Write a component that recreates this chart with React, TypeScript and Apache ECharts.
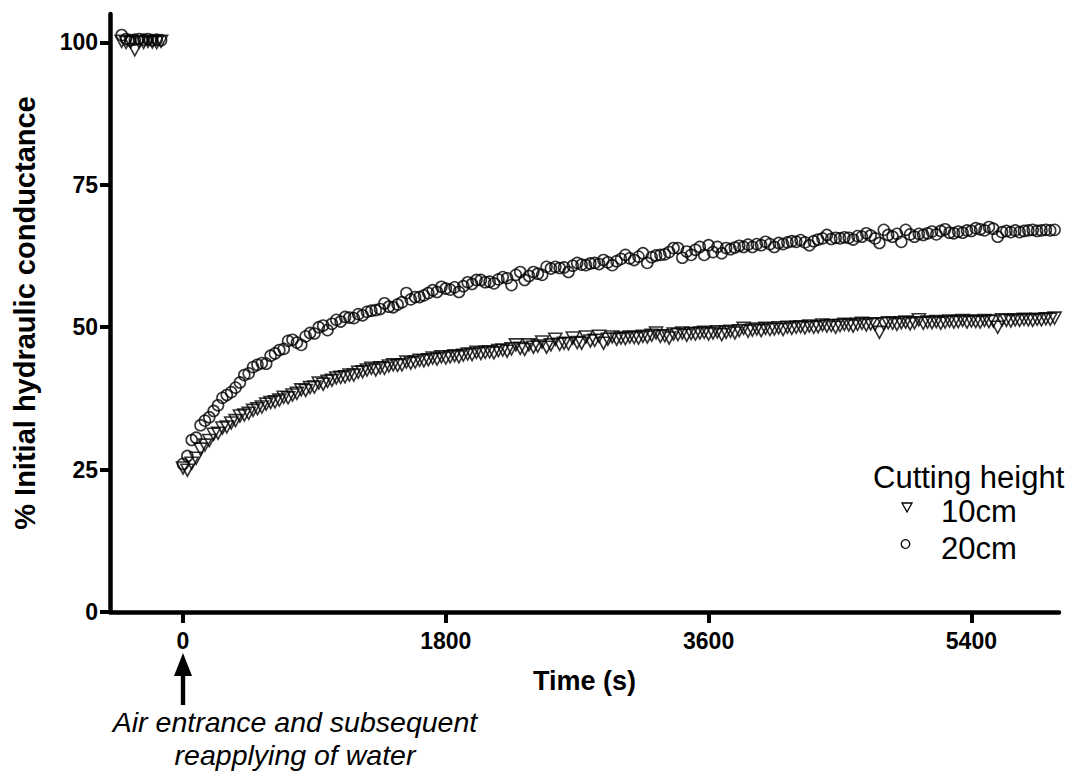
import React, { useEffect, useRef } from "react";
import * as echarts from "echarts";

const FONT = 'Arial, "Liberation Sans", Helvetica, sans-serif';

const X_TICKS = [0, 1800, 3600, 5400];
const Y_TICKS = [0, 25, 50, 75, 100];

// Baseline readings before air entrance (s)
const PRE_TIMES = [-420, -390, -360, -330, -300, -270, -240, -210, -180, -150];
const PRE_10CM = [100.2, 100.0, 100.1, 98.7, 100.1, 100.0, 100.2, 100.1, 100.0, 100.2];
const PRE_20CM = [101.3, 100.6, 100.4, 100.5, 100.6, 100.5, 100.6, 100.4, 100.5, 100.4];

// Recovery readings, one every 30 s starting at t = 0
const SAMPLE_STEP = 30;
const POST_10CM = [
  25.3, 24.9, 26.1, 27.0, 28.6, 29.3, 30.1, 31.2, 31.4, 32.3,
  32.5, 33.2, 33.6, 34.4, 34.6, 34.9, 35.4, 35.7, 36.0, 36.5,
  36.8, 36.9, 37.2, 37.7, 37.6, 38.1, 38.4, 39.0, 38.9, 39.4,
  39.5, 40.2, 40.0, 40.5, 40.7, 41.1, 41.2, 41.3, 41.6, 41.6,
  42.1, 42.2, 42.5, 42.8, 42.5, 42.9, 42.8, 43.2, 43.4, 43.3,
  43.4, 43.9, 43.7, 43.9, 44.2, 44.1, 44.3, 44.6, 44.4, 44.8,
  44.6, 44.8, 45.0, 44.8, 45.1, 45.3, 45.2, 45.6, 45.4, 45.6,
  45.7, 45.5, 45.9, 46.0, 45.8, 46.2, 46.9, 46.3, 46.1, 46.9,
  46.5, 46.7, 47.4, 46.5, 46.9, 47.9, 47.0, 47.2, 47.1, 48.1,
  47.3, 47.2, 48.3, 47.6, 47.7, 48.4, 47.2, 47.9, 48.3, 47.9,
  48.1, 48.0, 48.3, 48.2, 48.1, 48.4, 48.3, 48.6, 49.0, 48.4,
  48.5, 48.1, 48.8, 48.7, 49.0, 48.6, 48.9, 48.8, 49.0, 49.1,
  48.8, 49.0, 49.2, 48.7, 49.1, 49.3, 49.0, 49.4, 49.8, 49.3,
  49.5, 49.7, 49.4, 49.8, 49.6, 49.7, 49.9, 49.6, 50.0, 49.8,
  50.0, 50.1, 49.9, 50.2, 50.0, 50.1, 50.4, 50.2, 50.3, 50.0,
  50.3, 50.5, 50.4, 50.2, 50.5, 50.7, 50.4, 50.6, 50.5, 49.1,
  50.6, 50.8, 50.7, 50.5, 50.8, 50.9, 50.6, 50.8, 51.3, 50.7,
  50.9, 50.8, 51.0, 50.7, 50.9, 51.1, 50.9, 51.0, 51.2, 50.9,
  51.1, 51.0, 50.9, 51.2, 51.0, 51.1, 50.0, 51.3, 51.2, 51.1,
  51.3, 51.2, 51.4, 51.3, 51.2, 51.4, 51.3, 51.5, 51.4, 51.6,
];
const POST_20CM = [
  26.0, 27.4, 30.2, 30.6, 32.8, 33.6, 34.2, 35.3, 36.3, 37.6,
  38.1, 38.6, 39.4, 40.3, 41.6, 41.9, 43.0, 43.4, 43.7, 43.6,
  45.0, 45.4, 46.0, 46.2, 47.6, 47.8, 47.3, 46.9, 48.4, 49.0,
  48.9, 50.0, 50.3, 49.5, 50.6, 51.3, 51.0, 51.8, 51.7, 51.6,
  52.3, 52.1, 52.7, 52.9, 53.0, 53.2, 54.2, 53.6, 53.5, 54.0,
  54.4, 56.0, 54.9, 55.3, 55.3, 55.6, 56.0, 56.5, 56.2, 57.1,
  56.8, 56.6, 57.0, 56.2, 57.2, 57.9, 57.6, 58.3, 58.3, 57.9,
  58.0, 57.7, 58.4, 58.8, 58.6, 57.4, 59.2, 59.7, 58.3, 59.0,
  59.7, 59.4, 59.2, 60.6, 60.3, 60.6, 60.4, 60.5, 59.7, 60.8,
  61.3, 61.0, 60.9, 61.2, 61.3, 61.1, 61.8, 61.4, 60.9, 61.6,
  62.0, 62.7, 62.1, 61.8, 62.4, 63.0, 61.3, 62.3, 62.6, 62.7,
  62.8, 63.2, 63.9, 63.9, 62.2, 63.3, 62.7, 63.6, 64.1, 62.7,
  64.4, 63.2, 64.1, 63.0, 63.9, 63.7, 64.0, 64.3, 64.1, 64.5,
  64.1, 64.6, 64.4, 65.0, 64.6, 64.1, 64.8, 64.6, 64.9, 65.1,
  65.0, 65.3, 64.9, 64.4, 65.1, 65.4, 65.6, 66.2, 65.5, 65.7,
  65.6, 65.8, 65.7, 65.4, 66.0, 65.9, 66.5, 66.1, 65.6, 64.8,
  67.1, 66.2, 65.9, 66.4, 65.0, 67.1, 66.3, 65.9, 66.4, 66.2,
  66.5, 66.8, 66.3, 66.9, 67.2, 66.6, 66.5, 66.8, 66.6, 67.0,
  66.9, 67.4, 67.2, 67.0, 67.6, 67.3, 65.9, 66.7, 66.9, 66.7,
  67.0, 66.7, 66.9, 67.0, 67.1, 66.9, 67.0, 67.1, 67.0, 67.1,
];

const SERIES_NAMES = ["10cm", "20cm"];
const LEGEND_TITLE = "Cutting height";
const X_NAME = "Time (s)";
const Y_NAME = "% Initial hydraulic conductance";
const NOTE_LINES = ["Air entrance and subsequent", "reapplying of water"];

function buildPoints(pre: number[], post: number[]): number[][] {
  const pts: number[][] = PRE_TIMES.map((t, i) => [t, pre[i]]);
  post.forEach((v, i) => pts.push([i * SAMPLE_STEP, v]));
  return pts;
}

export default function App() {
  const ref = useRef<HTMLDivElement>(null);

  useEffect(() => {
    document.body.style.margin = "0";
    if (!ref.current) return;
    const chart = echarts.init(ref.current, undefined, { renderer: "svg" });

    const markerStyle = {
      color: "rgba(255,255,255,0)",
      borderColor: "#000",
      borderWidth: 1.6,
    };

    chart.setOption({
      animation: false,
      backgroundColor: "#fff",
      grid: { left: 110, right: 17, top: 14, bottom: 161, containLabel: false },
      xAxis: {
        type: "value",
        min: -500,
        max: 6000,
        name: X_NAME,
        nameLocation: "middle",
        nameGap: 55,
        nameTextStyle: { fontFamily: FONT, fontWeight: "bold", fontSize: 27, color: "#000" },
        splitLine: { show: false },
        axisLine: { show: true, onZero: false, lineStyle: { color: "#000", width: 4.5, cap: "round" } },
        axisTick: { show: true, length: 11, lineStyle: { color: "#000", width: 4 }, customValues: X_TICKS },
        axisLabel: {
          fontFamily: FONT, fontWeight: "bold", fontSize: 23, color: "#000", margin: 17,
          customValues: X_TICKS,
          formatter: (v: number) => String(v),
        },
      },
      yAxis: {
        type: "value",
        min: 0,
        max: 105,
        name: Y_NAME,
        nameLocation: "middle",
        nameRotate: 90,
        nameGap: 71,
        nameTextStyle: { fontFamily: FONT, fontWeight: "bold", fontSize: 29, color: "#000" },
        splitLine: { show: false },
        axisLine: { show: true, onZero: false, lineStyle: { color: "#000", width: 4.5, cap: "round" } },
        axisTick: { show: true, length: 10, lineStyle: { color: "#000", width: 4 }, customValues: Y_TICKS },
        axisLabel: {
          fontFamily: FONT, fontWeight: "bold", fontSize: 23, color: "#000", margin: 12,
          customValues: Y_TICKS,
          formatter: (v: number) => String(v),
        },
      },
      series: [
        {
          name: SERIES_NAMES[0],
          type: "scatter",
          data: buildPoints(PRE_10CM, POST_10CM),
          symbol: "triangle",
          symbolRotate: 180,
          symbolSize: [13, 12],
          itemStyle: markerStyle,
          z: 3,
        },
        {
          name: SERIES_NAMES[1],
          type: "scatter",
          data: buildPoints(PRE_20CM, POST_20CM),
          symbol: "circle",
          symbolSize: 11,
          itemStyle: markerStyle,
          z: 3,
        },
      ],
    });

    const x0 = chart.convertToPixel({ xAxisIndex: 0 }, 0) as number;
    const noteCx = 295;

    chart.setOption({
      graphic: [
        {
          type: "polygon",
          shape: { points: [[x0, 653], [x0 - 9, 676], [x0 + 9, 676]] },
          style: { fill: "#000" },
        },
        {
          type: "rect",
          shape: { x: x0 - 2.2, y: 674, width: 4.4, height: 31 },
          style: { fill: "#000" },
        },
        {
          type: "text",
          style: {
            x: noteCx, y: 722, text: NOTE_LINES[0],
            font: `italic 28.5px ${FONT}`, fill: "#000", align: "center", verticalAlign: "middle",
          },
        },
        {
          type: "text",
          style: {
            x: noteCx, y: 755, text: NOTE_LINES[1],
            font: `italic 28.5px ${FONT}`, fill: "#000", align: "center", verticalAlign: "middle",
          },
        },
        {
          type: "text",
          style: {
            x: 873, y: 477, text: LEGEND_TITLE,
            font: `normal 31px ${FONT}`, fill: "#000", align: "left", verticalAlign: "middle",
          },
        },
        {
          type: "polygon",
          shape: { points: [[902, 503], [912, 503], [907, 512]] },
          style: { fill: "none", stroke: "#000", lineWidth: 1.3 },
        },
        {
          type: "text",
          style: {
            x: 941, y: 511, text: SERIES_NAMES[0],
            font: `normal 31px ${FONT}`, fill: "#000", align: "left", verticalAlign: "middle",
          },
        },
        {
          type: "circle",
          shape: { cx: 905.5, cy: 544, r: 4.3 },
          style: { fill: "none", stroke: "#000", lineWidth: 1.3 },
        },
        {
          type: "text",
          style: {
            x: 941, y: 548, text: SERIES_NAMES[1],
            font: `normal 31px ${FONT}`, fill: "#000", align: "left", verticalAlign: "middle",
          },
        },
      ],
    });

    return () => chart.dispose();
  }, []);

  return <div ref={ref} style={{ width: 1076, height: 773 }} />;
}
